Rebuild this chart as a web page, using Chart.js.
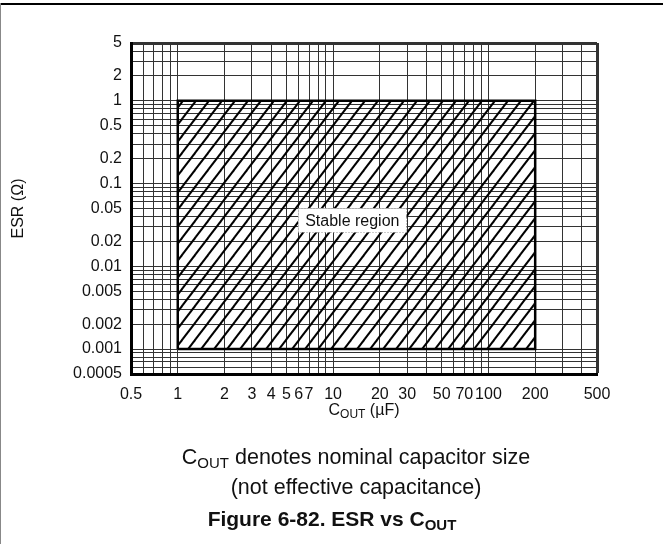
<!DOCTYPE html>
<html>
<head>
<meta charset="utf-8">
<script src="https://cdn.jsdelivr.net/npm/chart.js@4.4.1/dist/chart.umd.min.js"></script>
<style>
  html, body { margin: 0; padding: 0; background: #fff; }
  #wrap { position: relative; width: 663px; height: 544px; overflow: hidden; }
  #wrap:before { content: ''; position: absolute; left: 0; top: 3px; width: 663px; height: 2px; background: #000; }
  #wrap:after { content: ''; position: absolute; left: 0; top: 3px; width: 1px; height: 541px; background: #888; }
  canvas { display: block; }
</style>
</head>
<body>
<div id="wrap"><canvas id="esr-chart" width="663" height="544"></canvas></div>
<script>
const FONT = '"Liberation Sans", Arial, Helvetica, sans-serif';

// axis ranges
const xRange = [0.5, 500];      // COUT, uF
const yRange = [0.0005, 5];     // ESR, ohm

// every grid line (1..9 per decade)
const xGridLines = [0.5, 0.6, 0.7, 0.8, 0.9, 1, 2, 3, 4, 5, 6, 7, 8, 9,
  10, 20, 30, 40, 50, 60, 70, 80, 90, 100, 200, 300, 400, 500];
const yGridLines = [0.0005, 0.0006, 0.0007, 0.0008, 0.0009,
  0.001, 0.002, 0.003, 0.004, 0.005, 0.006, 0.007, 0.008, 0.009,
  0.01, 0.02, 0.03, 0.04, 0.05, 0.06, 0.07, 0.08, 0.09,
  0.1, 0.2, 0.3, 0.4, 0.5, 0.6, 0.7, 0.8, 0.9,
  1, 2, 3, 4, 5];

// labelled ticks
const xTickLabels = [0.5, 1, 2, 3, 4, 5, 6, 7, 10, 20, 30, 50, 70, 100, 200, 500];
const yTickLabels = [0.0005, 0.001, 0.002, 0.005, 0.01, 0.02, 0.05, 0.1, 0.2, 0.5, 1, 2, 5];

// stable region (hatched box)
const stableCout = [1, 200];        // uF
const stableEsr = [0.001, 1];       // ohm, low / high
const stableLabel = { text: 'Stable region', x: 13.3, y: 0.036 };

const canvas = document.getElementById('esr-chart');
const ctx = canvas.getContext('2d');

function makeHatch() {
  const w = 13, h = 17;
  const c = document.createElement('canvas');
  c.width = w; c.height = h;
  const g = c.getContext('2d');
  g.strokeStyle = '#000';
  g.lineWidth = 2;
  for (const dx of [-w, 0, w]) {
    g.beginPath();
    g.moveTo(dx - w, 2 * h);
    g.lineTo(dx + 2 * w, -h);
    g.stroke();
  }
  return ctx.createPattern(c, 'repeat');
}

const topEdge = stableCout.map(x => ({ x: x, y: stableEsr[1] }));
const bottomEdge = stableCout.map(x => ({ x: x, y: stableEsr[0] }));
const outline = [
  { x: stableCout[0], y: stableEsr[0] },
  { x: stableCout[0], y: stableEsr[1] },
  { x: stableCout[1], y: stableEsr[1] },
  { x: stableCout[1], y: stableEsr[0] },
  { x: stableCout[0], y: stableEsr[0] }
];

// label box + x title with subscript + notes under the chart
const textPlugin = {
  id: 'texts',
  afterDatasetsDraw(chart) {
    const { ctx, scales } = chart;
    const px = scales.x.getPixelForValue(stableLabel.x);
    const py = scales.y.getPixelForValue(stableLabel.y);
    ctx.save();
    ctx.font = '16px ' + FONT;
    const tw = ctx.measureText(stableLabel.text).width;
    const bw = tw + 14, bh = 24;
    ctx.fillStyle = '#fff';
    ctx.fillRect(px - bw / 2, py - bh / 2, bw, bh);
    ctx.setLineDash([1, 2]);
    ctx.strokeStyle = '#999';
    ctx.lineWidth = 1;
    ctx.strokeRect(Math.round(px - bw / 2) + 0.5, Math.round(py - bh / 2) + 0.5, Math.round(bw), bh);
    ctx.setLineDash([]);
    ctx.fillStyle = '#111';
    ctx.textAlign = 'center';
    ctx.textBaseline = 'middle';
    ctx.fillText(stableLabel.text, px, py + 1);
    ctx.restore();
  },
  afterDraw(chart) {
    const { ctx, chartArea } = chart;
    ctx.save();
    ctx.fillStyle = '#111';
    ctx.textBaseline = 'alphabetic';
    ctx.textAlign = 'left';

    // draws [text, size, bold, dy] runs centred on cx
    function runs(parts, cx, baseY) {
      let total = 0;
      parts.forEach(p => {
        ctx.font = (p[2] ? 'bold ' : '') + p[1] + 'px ' + FONT;
        p.w = ctx.measureText(p[0]).width;
        total += p.w;
      });
      let x = cx - total / 2;
      parts.forEach(p => {
        ctx.font = (p[2] ? 'bold ' : '') + p[1] + 'px ' + FONT;
        ctx.fillText(p[0], x, baseY + (p[3] || 0));
        x += p.w;
      });
    }

    const cx = (chartArea.left + chartArea.right) / 2;
    runs([['C', 16], ['OUT', 12, false, 3], [' (\u00B5F)', 16]], cx, 415);
    runs([['C', 21.5], ['OUT', 15, false, 4], [' denotes nominal capacitor size', 21.5]], 356, 464);
    runs([['(not effective capacitance)', 21.5]], 356, 494);
    runs([['Figure 6-82. ESR vs C', 21, true], ['OUT', 15, true, 4]], 332, 526);
    ctx.restore();
  }
};

const gridColor = '#333';

const esrChart = new Chart(ctx, {
  type: 'line',
  data: {
    datasets: [
      {
        data: topEdge,
        borderWidth: 0,
        pointRadius: 0,
        backgroundColor: makeHatch(),
        fill: '+1'
      },
      {
        data: bottomEdge,
        borderWidth: 0,
        pointRadius: 0,
        fill: false
      },
      {
        data: outline,
        borderColor: '#000',
        borderWidth: 2.5,
        pointRadius: 0,
        fill: false
      }
    ]
  },
  options: {
    responsive: false,
    animation: false,
    layout: { padding: { top: 43, right: 66, left: 0, bottom: 0 } },
    plugins: {
      legend: { display: false },
      tooltip: { enabled: false }
    },
    scales: {
      x: {
        type: 'logarithmic',
        min: xRange[0],
        max: xRange[1],
        afterBuildTicks: s => { s.ticks = xGridLines.map(v => ({ value: v })); },
        afterFit: s => { s.height = 170; },
        ticks: {
          autoSkip: false,
          maxRotation: 0,
          padding: 11,
          color: '#111',
          font: { size: 16, family: FONT },
          callback: v => xTickLabels.includes(v) ? String(v) : ''
        },
        grid: {
          drawTicks: false,
          color: gridColor,
          lineWidth: c => (c.tick && c.tick.value === xRange[1]) ? 3 : 1
        },
        border: { display: true, color: '#000', width: 3 }
      },
      y: {
        type: 'logarithmic',
        min: yRange[0],
        max: yRange[1],
        afterBuildTicks: s => { s.ticks = yGridLines.map(v => ({ value: v })); },
        afterFit: s => { s.width = 131; },
        ticks: {
          autoSkip: false,
          padding: 9,
          color: '#111',
          font: { size: 16, family: FONT },
          callback: v => yTickLabels.includes(v) ? String(v) : ''
        },
        grid: {
          drawTicks: false,
          color: gridColor,
          lineWidth: c => (c.tick && c.tick.value === yRange[1]) ? 3 : 1
        },
        border: { display: true, color: '#000', width: 3 },
        title: {
          display: true,
          text: 'ESR (\u03A9)',
          color: '#111',
          font: { size: 16, family: FONT },
          padding: { top: 9, bottom: 0 }
        }
      }
    }
  },
  plugins: [textPlugin]
});
</script>
</body>
</html>
